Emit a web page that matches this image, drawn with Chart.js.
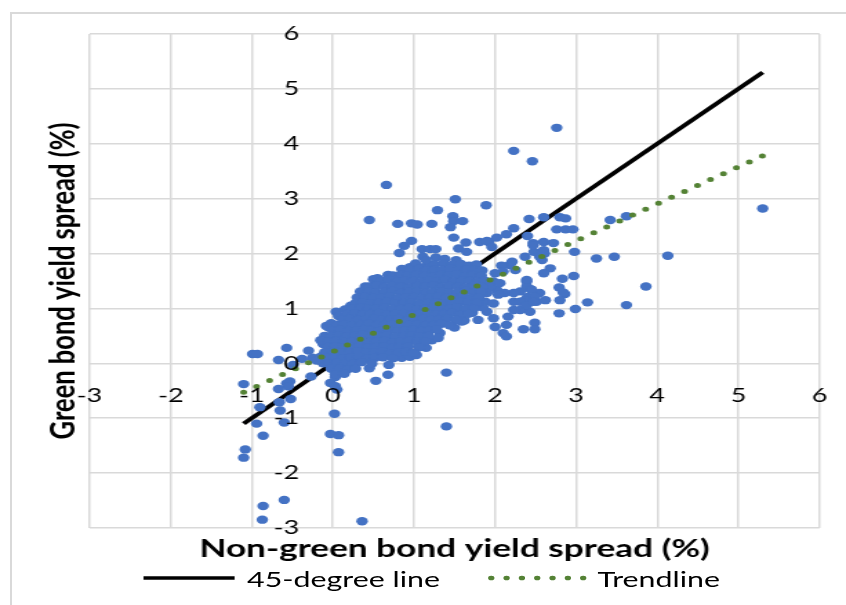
<!DOCTYPE html>
<html>
<head>
<meta charset="utf-8">
<script src="https://cdn.jsdelivr.net/npm/chart.js@4.4.1/dist/chart.umd.min.js"></script>
<style>
  html, body { margin: 0; padding: 0; background: #fff; overflow: hidden; }
  body { width: 846px; height: 605px; position: relative; }
  #frame { position: absolute; left: 10px; top: 12px; width: 900px; height: 700px; border: 2px solid #d9d9d9; }
  /* the reference picture is stretched sideways, so the whole chart is too */
  #stretch { position: absolute; left: 0; top: 0; width: 613px; height: 605px; transform: scaleX(1.38); transform-origin: 0 0; }
  #chart { position: absolute; left: 0; top: 0; }
  .legend-item { position: absolute; top: 566px; height: 24px; display: flex; align-items: center; font: 22px Lato, sans-serif; color: #000; white-space: nowrap; }
  .legend-item svg { margin-right: 6px; }
</style>
</head>
<body>
<div id="frame"></div>
<div id="stretch">
  <canvas id="chart" width="613" height="605"></canvas>
</div>
<script>
// axis range (both axes)
const axisMin = -3;
const axisMax = 6;

// 45度線の端点
const diagonalX = [-1.1, 5.3];

// trendline end points
const trendX = [-1.1, 5.3];
const trendY = [-0.53, 3.78];

// [non-green spread, green spread]
const spreadPoints = [
  // far outliers, lower left
  [-0.08,0.68],[-0.1,0.5],[-0.07,0.32],[-0.99,0.17],[-0.93,0.17],[-0.57,0.28],[-0.3,0.23],[-0.67,0.06],
  [-0.38,0.08],[-0.49,-0.03],[-0.25,0.1],[-0.15,0.12],[-0.12,0.0],[-0.2,0.05],[-1.1,-0.38],[-0.53,-0.33],
  [-0.57,-0.37],[-0.55,-0.42],[-0.67,-0.47],[-0.27,-0.24],[-0.03,-0.36],[0.03,-0.25],[0.05,-0.48],[-0.52,-0.65],
  [-0.9,-0.8],[-0.66,-0.71],[-0.65,-0.86],[-0.94,-1.1],[-0.6,-1.08],[0.02,-0.92],[-0.86,-1.32],[-0.03,-1.29],
  [0.07,-1.31],[0.07,-1.62],[-1.08,-1.57],[-1.1,-1.72],[-0.86,-2.6],[-0.6,-2.49],[-0.87,-2.85],[0.36,-2.88],
  [0.53,-0.32],[1.4,-1.15],[0.68,-0.21],[0.45,-0.09],[0.69,-0.03],[1.4,-0.17],[0.03,-0.42],
  // above the cluster
  [0.66,3.25],[0.45,2.61],[0.8,2.54],[0.97,2.55],[1.04,2.53],[1.22,2.54],[1.51,2.99],[1.89,2.88],
  [1.29,2.79],[1.48,2.68],[1.49,2.59],[1.6,2.59],[1.45,2.48],[1.49,2.29],[0.97,2.23],[0.88,2.14],
  [0.82,2.01],[1.1,2.08],[1.2,2.08],[1.27,2.08],[1.11,1.94],[1.27,1.93],[1.64,2.2],[1.81,2.21],
  [1.92,2.21],[1.55,2.09],[1.65,2.03],[0.95,1.75],[1.12,1.75],[1.2,1.79],[0.5,1.53],[0.68,1.61],
  [0.34,1.31],[0.42,1.28],
  // right of the cluster
  [2.76,4.29],[2.23,3.87],[2.46,3.68],[2.42,2.63],[2.6,2.66],[2.8,2.66],[2.87,2.64],[3.42,2.61],
  [3.62,2.68],[2.76,2.44],[2.87,2.44],[2.96,2.44],[2.23,2.46],[2.4,2.32],[2.02,2.29],[2.14,2.35],
  [1.9,2.23],[1.96,2.12],[2.47,2.19],[2.6,2.21],[2.72,2.19],[2.48,2.03],[2.61,2.0],[2.98,2.03],
  [3.25,1.91],[3.47,1.94],[4.13,1.96],[2.37,1.94],[2.58,1.88],[2.18,1.79],[2.08,1.78],[2.68,1.73],
  [2.6,1.64],[2.25,1.7],[2.83,1.54],[2.97,1.59],[2.79,1.38],[2.86,1.26],[3.86,1.4],[3.14,1.11],
  [2.99,0.99],[3.62,1.06],[2.79,0.91],[2.39,1.49],[2.44,1.35],[2.4,1.21],[2.31,1.31],[2.37,1.15],
  [2.51,1.12],[2.62,1.15],[2.84,1.29],[2.55,1.28],[2.8,1.15],[2.43,0.94],[2.31,0.97],[2.35,0.62],
  [2.49,0.74],[2.49,0.62],[2.1,0.55],[2.14,0.49],[2.14,0.7],[2.0,0.66],[1.98,0.82],[1.9,0.94],
  [1.88,1.12],[2.02,1.34],[2.47,2.15],[2.55,1.94],[2.6,2.06],[2.21,1.85],[2.1,1.67],[2.0,1.64],
  [1.98,1.49],[1.86,1.49],[1.94,1.4],[2.06,1.46],[2.12,1.28],[2.04,1.25],[2.23,1.28],[1.9,1.28],
  [1.98,1.09],[2.23,1.12],[2.16,0.85],[2.23,0.97],[2.31,1.12],[2.39,1.06],[5.3,2.82],[2.39,1.4],
  [2.45,1.34],[2.49,1.21],[2.47,1.12],[2.39,1.52],
  // loose points on the cluster edges
  [0.22,1.05],[0.15,0.98],[0.4,1.4],[0.55,1.55],[0.85,1.72],[1.02,1.82],[1.15,1.88],[1.38,1.9],
  [1.52,1.88],[0.85,0.1],[0.95,0.12],[1.15,0.28],[1.22,0.42],[1.32,0.55],[1.5,0.65],[1.62,0.78],
  [1.72,0.92],[1.85,1.02],[1.3,0.46],[1.59,0.76],[1.79,0.79],[1.01,0.19],[1.03,0.15],[-0.1,0.2],
  [-0.12,0.35],[-0.15,0.42],[-0.05,0.65],[0.04,0.94],[0.09,0.56],[-0.02,0.73],[0.07,0.86],
  // dense cluster, row by row
  [1.25,1.8],[1.36,1.82],[1.47,1.79],[1.58,1.81],[1.68,1.78],[1.77,1.8],
  [0.96,1.7],[1.06,1.72],[1.15,1.69],[1.25,1.71],[1.35,1.7],[1.45,1.72],[1.55,1.69],[1.65,1.71],[1.75,1.7],[1.84,1.69],
  [0.74,1.6],[0.84,1.62],[0.93,1.59],[1.03,1.61],[1.13,1.6],[1.23,1.58],[1.33,1.61],[1.43,1.6],[1.53,1.62],[1.63,1.59],[1.73,1.61],[1.83,1.6],
  [0.6,1.5],[0.69,1.52],[0.79,1.49],[0.89,1.51],[0.99,1.5],[1.09,1.48],[1.19,1.51],[1.29,1.5],[1.39,1.52],[1.49,1.49],[1.59,1.51],[1.69,1.5],[1.79,1.48],[1.87,1.51],
  [0.45,1.4],[0.54,1.42],[0.64,1.39],[0.74,1.41],[0.84,1.4],[0.94,1.38],[1.04,1.41],[1.14,1.4],[1.24,1.42],[1.34,1.39],[1.44,1.41],[1.54,1.4],[1.64,1.38],[1.74,1.41],[1.84,1.4],
  [0.35,1.3],[0.44,1.31],[0.54,1.29],[0.64,1.3],[0.74,1.32],[0.84,1.29],[0.94,1.3],[1.04,1.31],[1.14,1.28],[1.24,1.3],[1.34,1.31],[1.44,1.29],[1.54,1.3],[1.64,1.32],[1.74,1.29],[1.83,1.3],
  [0.3,1.2],[0.4,1.21],[0.5,1.19],[0.6,1.2],[0.7,1.22],[0.8,1.19],[0.9,1.2],[1.0,1.21],[1.1,1.18],[1.2,1.2],[1.3,1.21],[1.4,1.19],[1.5,1.2],[1.6,1.22],[1.7,1.19],[1.8,1.2],
  [0.28,1.1],[0.37,1.11],[0.47,1.09],[0.57,1.1],[0.67,1.12],[0.77,1.09],[0.87,1.1],[0.97,1.11],[1.07,1.08],[1.17,1.1],[1.27,1.11],[1.37,1.09],[1.47,1.1],[1.57,1.12],[1.67,1.09],[1.78,1.1],
  [0.25,1.0],[0.34,1.01],[0.44,0.99],[0.54,1.0],[0.64,1.02],[0.74,0.99],[0.84,1.0],[0.94,1.01],[1.04,0.98],[1.14,1.0],[1.24,1.01],[1.34,0.99],[1.44,1.0],[1.54,1.02],[1.64,0.99],[1.74,1.0],
  [0.18,0.9],[0.27,0.91],[0.37,0.89],[0.47,0.9],[0.57,0.92],[0.67,0.89],[0.77,0.9],[0.87,0.91],[0.97,0.88],[1.07,0.9],[1.17,0.91],[1.27,0.89],[1.37,0.9],[1.47,0.92],[1.57,0.89],[1.67,0.9],
  [0.12,0.8],[0.21,0.81],[0.31,0.79],[0.41,0.8],[0.51,0.82],[0.61,0.79],[0.71,0.8],[0.81,0.81],[0.91,0.78],[1.01,0.8],[1.11,0.81],[1.21,0.79],[1.31,0.8],[1.41,0.82],[1.52,0.79],
  [0.05,0.7],[0.14,0.71],[0.24,0.69],[0.34,0.7],[0.44,0.72],[0.54,0.69],[0.64,0.7],[0.74,0.71],[0.84,0.68],[0.94,0.7],[1.04,0.71],[1.14,0.69],[1.24,0.7],[1.34,0.72],[1.44,0.69],
  [0.0,0.6],[0.09,0.61],[0.19,0.59],[0.29,0.6],[0.39,0.62],[0.49,0.59],[0.59,0.6],[0.69,0.61],[0.79,0.58],[0.89,0.6],[0.99,0.61],[1.09,0.59],[1.19,0.6],[1.28,0.62],
  [-0.02,0.5],[0.07,0.51],[0.17,0.49],[0.27,0.5],[0.37,0.52],[0.47,0.49],[0.57,0.5],[0.67,0.51],[0.77,0.48],[0.87,0.5],[0.97,0.51],[1.07,0.49],[1.18,0.5],
  [-0.05,0.4],[0.04,0.41],[0.14,0.39],[0.24,0.4],[0.34,0.42],[0.44,0.39],[0.54,0.4],[0.64,0.41],[0.74,0.38],[0.84,0.4],[0.94,0.41],[1.04,0.39],[1.14,0.4],
  [-0.06,0.3],[0.03,0.31],[0.13,0.29],[0.23,0.3],[0.33,0.32],[0.43,0.29],[0.53,0.3],[0.63,0.31],[0.73,0.28],[0.83,0.3],[0.93,0.31],[1.06,0.29],
  [-0.08,0.2],[0.01,0.21],[0.11,0.19],[0.21,0.2],[0.31,0.22],[0.41,0.19],[0.51,0.2],[0.61,0.21],[0.71,0.18],[0.81,0.2],[0.9,0.21],[0.99,0.19],
  [-0.08,0.1],[0.02,0.11],[0.12,0.09],[0.22,0.1],[0.32,0.12],[0.42,0.09],[0.52,0.1],[0.62,0.11],[0.74,0.09],
  [-0.05,0.0],[0.05,0.01],[0.15,-0.01],[0.25,0.0],[0.35,0.02],[0.48,-0.01],
  [-0.02,-0.1],[0.08,-0.09],[0.18,-0.11],[0.28,-0.1],
  [0.03,-0.2],[0.14,-0.19]
];

const gridColor = '#d9d9d9';
const titleFont = { family: 'Lato', size: 25.5, weight: 'bold' };

// tick labels sit next to the axes that cross at zero
const crossAxisTicks = {
  id: 'crossAxisTicks',
  afterDatasetsDraw(chart) {
    const { ctx, scales } = chart;
    const x0 = scales.x.getPixelForValue(0);
    const y0 = scales.y.getPixelForValue(0);
    ctx.save();
    ctx.font = '19.5px Lato';
    ctx.fillStyle = '#000';
    ctx.textBaseline = 'middle';
    ctx.textAlign = 'center';
    scales.x.ticks.forEach(t => {
      ctx.fillText(t.label, scales.x.getPixelForValue(t.value), y0 + 32.5);
    });
    ctx.textAlign = 'right';
    scales.y.ticks.forEach(t => {
      ctx.fillText(t.label, x0 - 24.5, scales.y.getPixelForValue(t.value));
    });
    ctx.restore();
  }
};

const ctx = document.getElementById('chart').getContext('2d');
const chart = new Chart(ctx, {
  type: 'scatter',
  data: {
    datasets: [
      {
        label: '45-degree line',
        data: diagonalX.map(v => ({ x: v, y: v })),
        showLine: true,
        borderColor: '#000',
        borderWidth: 3.8,
        pointRadius: 0,
        order: 3
      },
      {
        label: 'Trendline',
        data: trendX.map((v, i) => ({ x: v, y: trendY[i] })),
        showLine: true,
        borderColor: '#548235',
        borderWidth: 5,
        borderDash: [0, 11.1],
        borderCapStyle: 'round',
        pointRadius: 0,
        order: 1
      },
      {
        label: 'Bonds',
        data: spreadPoints.map(p => ({ x: p[0], y: p[1] })),
        backgroundColor: '#4472C4',
        pointRadius: 4.2,
        pointBorderWidth: 0,
        order: 2
      }
    ]
  },
  options: {
    responsive: false,
    animation: false,
    devicePixelRatio: 1,
    layout: { padding: { left: 8, right: 19.2, top: 34, bottom: 41.3 } },
    plugins: {
      legend: { display: false },
      tooltip: { enabled: false }
    },
    scales: {
      x: {
        type: 'linear',
        min: axisMin,
        max: axisMax,
        ticks: { stepSize: 1, display: false },
        grid: { color: gridColor, lineWidth: 1.5, drawTicks: false },
        border: { display: false },
        title: {
          display: true,
          text: 'Non-green bond yield spread (%)',
          color: '#000',
          font: titleFont,
          padding: { top: 5.2, bottom: 0 }
        }
      },
      y: {
        type: 'linear',
        min: axisMin,
        max: axisMax,
        ticks: { stepSize: 1, display: false },
        grid: { color: gridColor, lineWidth: 1.5, drawTicks: false },
        border: { display: false },
        title: {
          display: true,
          text: 'Green bond yield spread (%)',
          color: '#000',
          font: titleFont,
          padding: { top: 22.4, bottom: 3.9 }
        }
      }
    }
  },
  plugins: [crossAxisTicks]
});

// legend below the axis title, built from the line datasets
const legendLeft = [101, 353];
const stretchBox = document.getElementById('stretch');
chart.data.datasets.slice(0, 2).forEach((ds, i) => {
  const item = document.createElement('div');
  item.className = 'legend-item';
  item.style.left = legendLeft[i] + 'px';
  const dash = ds.borderDash ? ds.borderDash.join(' ') : 'none';
  const cap = ds.borderCapStyle || 'butt';
  const w = i === 0 ? 72 : 74;
  item.innerHTML =
    '<svg width="' + w + '" height="10"><line x1="3" y1="5" x2="' + (w - 3) + '" y2="5" stroke="' + ds.borderColor +
    '" stroke-width="' + (i === 0 ? 3.4 : 4.6) + '" stroke-dasharray="' + dash + '" stroke-linecap="' + cap + '"/></svg>' +
    '<span>' + ds.label + '</span>';
  stretchBox.appendChild(item);
});
</script>
</body>
</html>
